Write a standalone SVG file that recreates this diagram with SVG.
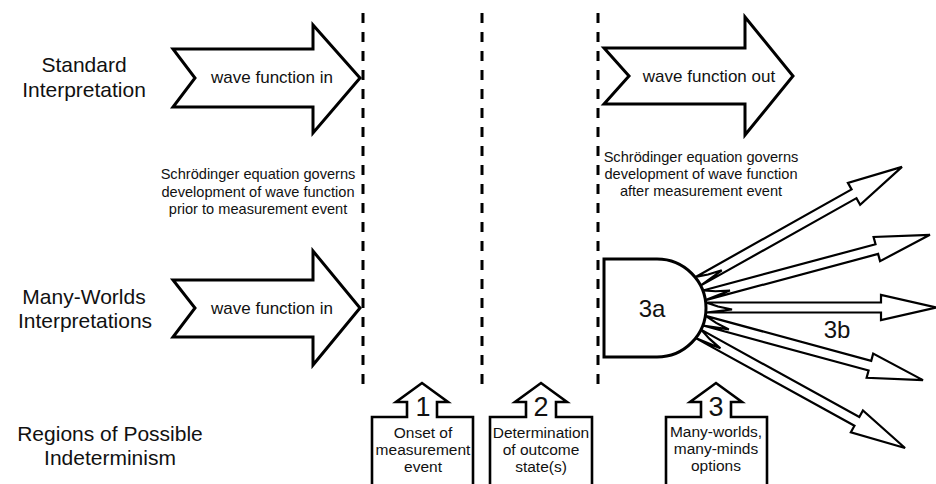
<svg xmlns="http://www.w3.org/2000/svg" width="936" height="484" viewBox="0 0 936 484">
<style>
text{font-family:"Liberation Sans",Arial,sans-serif;fill:#111;text-anchor:middle}
.lbl{font-size:21px}
.wf{font-size:17px}
.note{font-size:14.6px}
.box{font-size:15.5px}
.num{font-size:27px}
.big{font-size:24px}
.shape{fill:#fff;stroke:#000;stroke-width:3;stroke-linejoin:miter}
.fan{fill:#fff;stroke:#000;stroke-width:2.2;stroke-linejoin:miter}
.boxs{fill:#fff;stroke:#000;stroke-width:2.6}
.dash{stroke:#000;stroke-width:3;stroke-dasharray:10 9;fill:none}
</style>
<rect width="936" height="484" fill="#fff"/>
<g id="labels">
<text class="lbl" x="84" y="72">Standard</text>
<text class="lbl" x="84" y="97">Interpretation</text>
<text class="lbl" x="84" y="304">Many-Worlds</text>
<text class="lbl" x="85" y="328">Interpretations</text>
<text class="lbl" x="110" y="441">Regions of Possible</text>
<text class="lbl" x="110" y="465">Indeterminism</text>
</g>
<g id="connectors">
<line class="dash" x1="363" y1="13" x2="363" y2="384"/>
<line class="dash" x1="482" y1="13" x2="482" y2="384"/>
<line class="dash" x1="598" y1="13" x2="598" y2="384"/>
</g>
<g id="std-in">
<path class="shape" d="M173,49 H313 V25 L360,78 L313,133 V107 H173 L195,78 Z"/>
<text class="wf" x="272" y="83">wave function in</text>
</g>
<g id="std-out">
<path class="shape" d="M604,48 H745 V17 L793,76 L745,135 V104 H604 L629,76 Z"/>
<text class="wf" x="709" y="82">wave function out</text>
</g>
<g id="mw-in">
<path class="shape" d="M173,280 H313 V251 L360,308 L313,365 V337 H173 L195,308 Z"/>
<text class="wf" x="272" y="314">wave function in</text>
</g>
<g id="note-left">
<text class="note" x="258" y="179">Schrödinger equation governs</text>
<text class="note" x="258" y="197">development of wave function</text>
<text class="note" x="258" y="214">prior to measurement event</text>
</g>
<g id="note-right">
<text class="note" x="701" y="162">Schrödinger equation governs</text>
<text class="note" x="701" y="179">development of wave function</text>
<text class="note" x="701" y="196">after measurement event</text>
</g>
<g id="fan">
<path class="fan" transform="translate(698.1,281.3) rotate(-29.3)" d="M0,-5 L178.8,-5 L178.8,-12.5 L233.8,0 L178.8,12.5 L178.8,5 L0,5 L26,2 L12,-1 Z"/>
<path class="fan" transform="translate(704.3,295.3) rotate(-15)" d="M0,-5 L178.6,-5 L178.6,-12.5 L233.6,0 L178.6,12.5 L178.6,5 L0,5 L26,2 L12,-1 Z"/>
<path class="fan" transform="translate(706,307.5)" d="M0,-5 L175,-5 L175,-12.5 L230,0 L175,12.5 L175,5 L0,5 L26,2 L12,-1 Z"/>
<path class="fan" transform="translate(704.3,320.7) rotate(15.2)" d="M0,-5 L171.6,-5 L171.6,-12.5 L226.6,0 L171.6,12.5 L171.6,5 L0,5 L26,2 L12,-1 Z"/>
<path class="fan" transform="translate(698.6,334) rotate(28.9)" d="M0,-5 L180.8,-5 L180.8,-12.5 L235.8,0 L180.8,12.5 L180.8,5 L0,5 L26,2 L12,-1 Z"/>
</g>
<g id="node-3a">
<path class="shape" d="M604,259 H657 A49,49 0 0 1 657,357 H604 Z"/>
<text class="big" x="652" y="317">3a</text>
</g>
<g id="label-3b">
<text class="big" x="837" y="338">3b</text>
</g>
<g id="box1">
<path class="boxs" d="M372,490 V417 H407 V402 H396 L422,383 L448,402 H437 V417 H473 V490"/>
<text class="num" x="423" y="416">1</text>
<text class="box" x="423" y="438">Onset of</text>
<text class="box" x="423" y="455">measurement</text>
<text class="box" x="423" y="472">event</text>
</g>
<g id="box2">
<path class="boxs" d="M490,490 V417 H526 V402 H515 L541,383 L567,402 H556 V417 H592 V490"/>
<text class="num" x="541" y="416">2</text>
<text class="box" x="541" y="438">Determination</text>
<text class="box" x="541" y="455">of outcome</text>
<text class="box" x="541" y="472">state(s)</text>
</g>
<g id="box3">
<path class="boxs" d="M666,490 V417 H701 V402 H690 L716,383 L742,402 H731 V417 H767 V490"/>
<text class="num" x="716" y="416">3</text>
<text class="box" x="716" y="437">Many-worlds,</text>
<text class="box" x="716" y="454">many-minds</text>
<text class="box" x="716" y="471">options</text>
</g>
</svg>
